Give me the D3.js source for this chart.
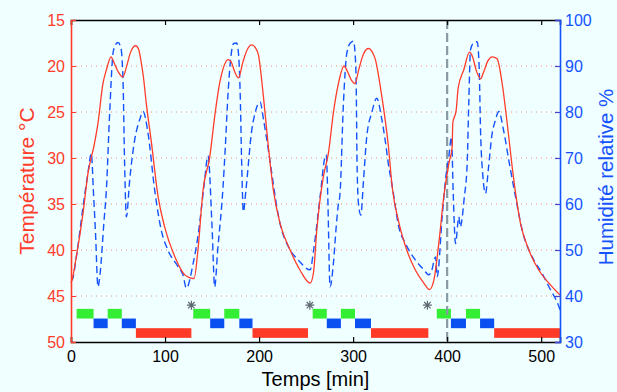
<!DOCTYPE html>
<html><head><meta charset="utf-8">
<script src="https://cdn.jsdelivr.net/npm/d3@7"></script>
<style>html,body{margin:0;padding:0;background:#f0ffff;} svg{display:block;}</style>
</head><body>
<script>
// ---- data ----
const tempTime = [0,1,5.7,12.8,18,25,28.7,34,38,42.5,46,50,55,59,63,68.5,72,74,77,80,85.5,92.6,99.6,110.3,121,126,130.9,135,140.4,147.5,152.8,158,162,167,170,174,178,183,188,192.2,196,199.3,204.6,209.9,215.2,222.3,233,243.6,254.3,257.8,261.4,268.4,273.7,279,284.4,290.4,294,298,302,306,311,316.3,320,323.4,330.5,337.6,341.5,348.6,355.7,366.3,375.2,381.2,385.8,391.1,396.4,401.8,405.3,406,409.6,411.7,417.7,423.8,427,431,435.5,439,443,447.9,453,458.5,463.8,470.9,478,486.9,497.5,508.2,520];
const tempValues = [43.6,43.3,40.7,36,31.7,28.4,26.2,21.9,20.3,19.0,19.7,20.6,21.2,20.1,18.6,17.8,18.2,19.2,21.2,24.0,28.3,34.2,37.5,40.7,42.7,43.0,43.1,40,33.5,29.9,25.5,21.9,20.2,19.3,19.5,20.6,21.3,19.5,18.1,17.7,18.0,18.8,23.3,28.8,33.5,37.1,40,42.2,43.6,42.5,37.8,32.0,29.5,25.1,21.9,20.0,20.6,21.5,21.9,20.4,18.7,18.1,18.4,19.2,23.3,28.8,33.1,37.0,39.6,42.2,43.6,44.3,43.3,39.3,34.2,30.6,28.8,26.2,24.8,22.4,20.4,18.5,19.0,20.5,21.4,20.6,19.5,19.0,19.2,21.9,26.2,32.4,37.1,40,42.2,43.6,44.9];

const humTime = [0,1,5.7,12.8,18,21.6,24,26,28.7,31,35,37.6,41.1,44.7,47,50,53,55.3,57,58.9,62.4,67.7,73,76.6,81.9,89,96,103,113.8,119,122.7,129.8,135,141.5,145.7,150,152.8,156,161.7,164,167,170,173,176,178,180,181.5,183.3,186,192.2,196,201,205,213.5,218.8,222,231.2,241.8,254.3,258,264.9,270.2,271.5,273,275.5,279,282,284.4,286,289.7,293.3,297,300.4,302,303.2,304.2,305.7,308.2,311,314.5,320,325.2,330,334,338,341.5,348.6,355.7,366.3,375.2,380.5,383.5,387.6,389.4,394.7,398.2,401.8,404.6,406.5,408.9,412.4,414,416,418,421.3,423,424.8,428,431.9,434,435.5,438,440.8,444,447.9,451,455,460,466,472.7,479.8,490.4,501,508.2,518.8,520];
const humValues = [43.5,43.5,48.5,59.4,66.7,71,62,54,42,45,56,63,79.7,92.8,94.5,95.1,94,87,68.8,57.2,65.2,73.9,78.3,80.1,75.4,63,54.3,50,46.4,44.6,41.7,47,53,64,70.5,55,42,50,63.8,72,84,92,94.9,95,93,83.3,68.8,58.3,63,76,80,82.2,78,66.7,59.4,56,50.7,47.8,45.7,50,61.6,70.3,70.7,62,42,47,55,60.1,62,81.9,92.8,95,95.4,93,87,68.8,60.1,57.6,65,74.6,80,83,79,74,68,64,55,51.4,47.8,45.7,44.6,45.5,48.5,44.2,57.2,65.2,70.3,74.6,62,51.4,57.2,55,57,61,68.8,82,93.5,95,95.3,90,76,66,62.3,68,75.4,78,80.1,76,69,61.6,54.3,48.5,44.9,42,37.7,37];

const blockStarts = [6,24,39,54,69, 130,148,163,179,193, 257,272,287,302,319, 389,404,420,435,450];
const blockEnds   = [24,39,54,69,128, 148,163,179,193,252, 272,287,302,319,380, 404,420,435,450,520];
const blockLevels = ["vert","bleu","vert","bleu","rouge","vert","bleu","vert","bleu","rouge","vert","bleu","vert","bleu","rouge","vert","bleu","vert","bleu","rouge"];
const levelBands = {vert:[46.4,47.45], bleu:[47.45,48.5], rouge:[48.5,49.55]};
const levelColors = {vert:"#33ee33", bleu:"#0a4ff0", rouge:"#ff3a26"};

const markerTimes = [128, 254, 379];
const markerTemp = 46.0;
const eventTime = 400;

const xTicks = [0,100,200,300,400,500];
const tempTicks = [15,20,25,30,35,40,45,50];
const gridTemps = [20,25,30,35,40,45];
const humTicks = [30,40,50,60,70,80,90,100];

// ---- layout ----
const W = 617, H = 392;
const L = 71, R = 560, T = 20, B = 342;
const RED = "#ff3b2a", BLUE = "#1552ff";
const FONT = "Liberation Sans, Arial, Helvetica, sans-serif";

const svg = d3.select("body").append("svg").attr("width", W).attr("height", H)
  .style("background", "#f0ffff");

const x = d3.scaleLinear().domain([0, 520]).range([L, R]);
const yT = d3.scaleLinear().domain([15, 50]).range([T, B]);
const yH = d3.scaleLinear().domain([30, 100]).range([B, T]);

// grid
svg.append("g").selectAll("line").data(gridTemps).join("line")
  .attr("x1", L).attr("x2", R).attr("y1", d => yT(d)).attr("y2", d => yT(d))
  .attr("stroke", "#f08a78").attr("stroke-width", 1).attr("stroke-dasharray", "1,4");

// blocks
svg.append("g").selectAll("rect").data(blockStarts.map((s, i) => ({s, e: blockEnds[i], l: blockLevels[i]}))).join("rect")
  .attr("x", d => x(d.s)).attr("width", d => x(d.e) - x(d.s))
  .attr("y", d => yT(levelBands[d.l][0])).attr("height", d => yT(levelBands[d.l][1]) - yT(levelBands[d.l][0]))
  .attr("fill", d => levelColors[d.l]);

// vertical dashed event line
svg.append("line").attr("x1", x(eventTime)).attr("x2", x(eventTime)).attr("y1", T).attr("y2", B)
  .attr("stroke", "#8a9aa2").attr("stroke-width", 2.2).attr("stroke-dasharray", "9,4");

// asterisks
const r = 4.5, dd = 3.2;
svg.append("g").selectAll("path").data(markerTimes).join("path")
  .attr("d", t => { const cx = x(t), cy = yT(markerTemp);
    return `M${cx-r},${cy}L${cx+r},${cy}M${cx},${cy-r}L${cx},${cy+r}M${cx-dd},${cy-dd}L${cx+dd},${cy+dd}M${cx-dd},${cy+dd}L${cx+dd},${cy-dd}`; })
  .attr("stroke", "#5d6870").attr("stroke-width", 1.2).attr("fill", "none");

// curves
const humLine = d3.line().x(d => x(d[0])).y(d => yH(d[1])).curve(d3.curveMonotoneX);
svg.append("path").datum(humTime.map((t, i) => [t, humValues[i]]))
  .attr("d", humLine).attr("fill", "none").attr("stroke", BLUE).attr("stroke-width", 1.4)
  .attr("stroke-dasharray", "7,4");

const tempLine = d3.line().x(d => x(d[0])).y(d => yT(d[1])).curve(d3.curveMonotoneX);
svg.append("path").datum(tempTime.map((t, i) => [t, tempValues[i]]))
  .attr("d", tempLine).attr("fill", "none").attr("stroke", RED).attr("stroke-width", 1.3);

// axes frame
// bottom
const xb = svg.append("g").attr("transform", `translate(0,${B})`)
  .call(d3.axisBottom(x).tickValues(xTicks).tickSize(-5).tickPadding(9).tickFormat(d3.format("d")));
xb.select(".domain").attr("stroke", "#000").attr("stroke-width", 1.6);
xb.selectAll(".tick line").attr("stroke", "#000").attr("stroke-width", 1.2);
xb.selectAll("text").attr("font-family", FONT).attr("font-size", 16).attr("fill", "#000");
// top
const xt = svg.append("g").attr("transform", `translate(0,${T})`)
  .call(d3.axisTop(x).tickValues(xTicks).tickSize(-5).tickFormat(""));
xt.select(".domain").attr("stroke", "#000").attr("stroke-width", 1.6);
xt.selectAll(".tick line").attr("stroke", "#000").attr("stroke-width", 1.2);
// left
const yl = svg.append("g").attr("transform", `translate(${L},0)`)
  .call(d3.axisLeft(yT).tickValues(tempTicks).tickSize(-5).tickPadding(6));
yl.select(".domain").attr("stroke", RED).attr("stroke-width", 1.6);
yl.selectAll(".tick line").attr("stroke", RED);
yl.selectAll("text").attr("font-family", FONT).attr("font-size", 16).attr("fill", RED);
// right
const yr = svg.append("g").attr("transform", `translate(${R},0)`)
  .call(d3.axisRight(yH).tickValues(humTicks).tickSize(-5).tickPadding(5));
yr.select(".domain").attr("stroke", BLUE).attr("stroke-width", 1.6);
yr.selectAll(".tick line").attr("stroke", "#4a40d0").attr("stroke-width", 1.2);
yr.selectAll("text").attr("font-family", FONT).attr("font-size", 16).attr("fill", BLUE);

// labels
svg.append("text").attr("x", (L + R) / 2).attr("y", 386).attr("text-anchor", "middle")
  .attr("font-family", FONT).attr("font-size", 20).attr("fill", "#000").text("Temps [min]");
svg.append("text").attr("transform", `translate(34,${(T + B) / 2}) rotate(-90)`).attr("text-anchor", "middle")
  .attr("font-family", FONT).attr("font-size", 21).attr("fill", RED).text("Température °C");
svg.append("text").attr("transform", `translate(613,${(T + B) / 2 - 4}) rotate(-90)`).attr("text-anchor", "middle")
  .attr("font-family", FONT).attr("font-size", 20.5).attr("fill", BLUE).text("Humidité relative %");
</script>
</body></html>
